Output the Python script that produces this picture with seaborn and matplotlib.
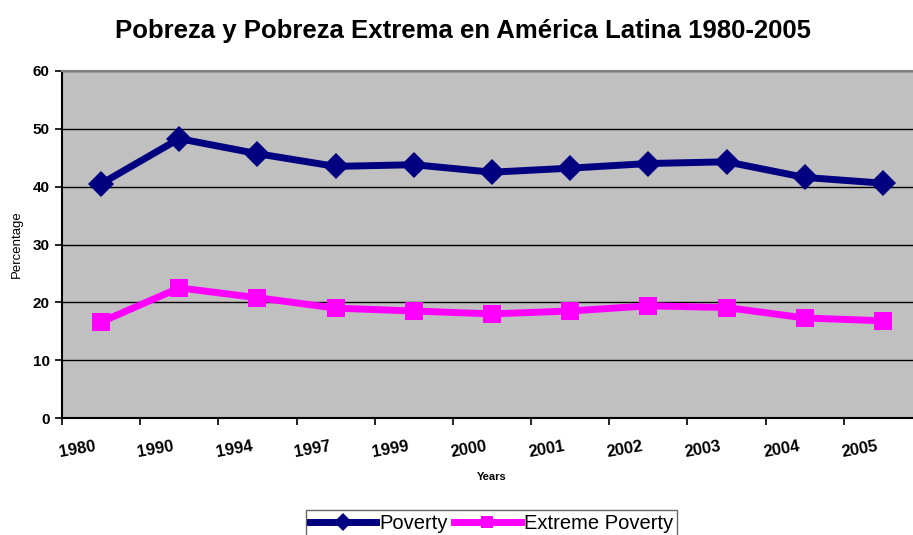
import numpy as np
import pandas as pd
import seaborn as sns
import matplotlib.pyplot as plt
from matplotlib.lines import Line2D

# datos
years = ['1980', '1990', '1994', '1997', '1999', '2000', '2001', '2002', '2003', '2004', '2005']
poverty = [40.5, 48.3, 45.7, 43.5, 43.8, 42.5, 43.2, 44.0, 44.3, 41.6, 40.6]
extreme_poverty = [16.6, 22.5, 20.8, 19.0, 18.5, 18.0, 18.5, 19.4, 19.1, 17.3, 16.8]
series = ['Poverty', 'Extreme Poverty']
colores = {'Poverty': '#000080', 'Extreme Poverty': '#FF00FF'}
marcadores = {'Poverty': 'D', 'Extreme Poverty': 's'}

df = pd.DataFrame({
    'pos': list(range(len(years))) * 2,
    'valor': poverty + extreme_poverty,
    'serie': [series[0]] * len(years) + [series[1]] * len(years),
})

plt.rcParams['font.family'] = ['Liberation Sans', 'DejaVu Sans']

fig = plt.figure(figsize=(9.13, 5.35), dpi=100)
ax = fig.add_axes([62 / 913, 117 / 535, 860 / 913, 347 / 535])
ax.set_facecolor('#C0C0C0')

sns.lineplot(data=df, x='pos', y='valor', hue='serie', style='serie',
             palette=colores, markers=marcadores, dashes=False,
             linewidth=5, markersize=13, markeredgewidth=0, ax=ax, legend=False)

ax.set_ylim(0, 60)
ax.set_yticks(range(0, 61, 10))
ax.set_xlim(-0.5, len(years) - 0.5)
ax.yaxis.grid(True, color='black', linewidth=1)
ax.set_axisbelow(True)

# marcas en los limites de categoria, etiquetas desplazadas
ax.set_xticks(np.arange(-0.5, len(years), 1))
ax.set_xticklabels([])
ax.set_xticks(np.arange(len(years)) - 0.3, minor=True)
ax.set_xticklabels(years, minor=True, rotation=10, fontsize=12, fontweight='bold')
ax.tick_params(axis='x', which='minor', length=0, pad=15)
ax.tick_params(axis='x', which='major', length=5, width=1.2, direction='out')
ax.tick_params(axis='y', length=5, width=1.2, labelsize=11, pad=4)
for lb in ax.get_yticklabels():
    lb.set_fontweight('bold')

for s in ['left', 'bottom']:
    ax.spines[s].set_color('black')
    ax.spines[s].set_linewidth(1.5)
ax.spines['top'].set_color('#808080')
ax.spines['top'].set_linewidth(1.5)
ax.spines['right'].set_visible(False)

ax.set_xlabel('Years', fontsize=8, fontweight='bold')
ax.xaxis.set_label_coords((492 - 62) / 860, -54 / 347)
ax.set_ylabel('Percentage', fontsize=9.5)
ax.yaxis.set_label_coords(-0.045, 0.5)

fig.suptitle('Pobreza y Pobreza Extrema en América Latina 1980-2005',
             x=463 / 913, y=0.965, fontsize=18.5, fontweight='bold')

handles = [Line2D([], [], color=colores[s], marker=marcadores[s], linewidth=5,
                  markersize=9, markeredgewidth=0) for s in series]
leg = fig.legend(handles, series, loc='upper left', bbox_to_anchor=(306 / 913, 25 / 535),
                 ncol=2, frameon=True, fancybox=False, edgecolor='#404040',
                 fontsize=14.5, handlelength=3.3, columnspacing=0.3, handletextpad=0.15,
                 borderpad=0.2, borderaxespad=0)
leg.get_frame().set_linewidth(1)

fig.savefig('out.png', dpi=100)
